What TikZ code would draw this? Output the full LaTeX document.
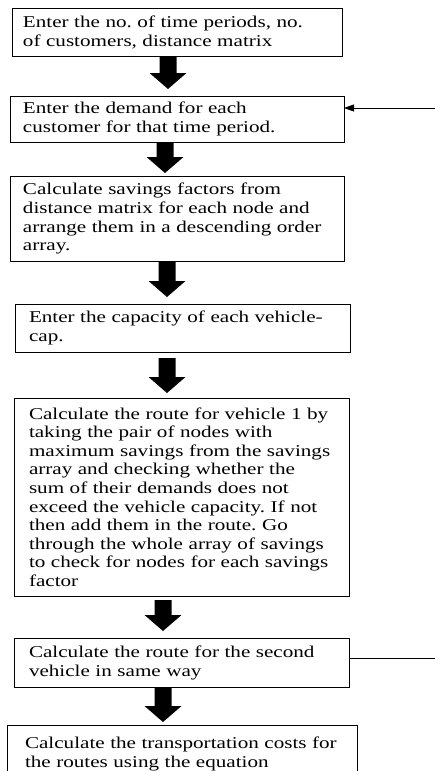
\documentclass[tikz,border=0pt]{standalone}
\usepackage{fontspec}
\setmainfont{Liberation Serif}[FakeStretch=1.28]
\usetikzlibrary{arrows.meta,calc}
\frenchspacing

% thick block arrow pointing down from #1 to #2
\newcommand\blockarrow[2]{%
  \fill let \p1=(#1), \p2=(#2) in
    (\x1-8.5pt,\y1) -- (\x1+8.5pt,\y1) -- (\x1+8.5pt,\y2+16pt)
    -- (\x1+18.5pt,\y2+16pt) -- (\x1,\y2) -- (\x1-18.5pt,\y2+16pt)
    -- (\x1-8.5pt,\y2+16pt) -- cycle;}

\tikzset{
  stepbox/.style n args={3}{draw, line width=0.9pt, anchor=north west,
    outer sep=0pt, inner ysep=2pt, inner xsep=#3,
    text width=#1-2*#3, minimum height=#2, align=left,
    font=\fontsize{16.5pt}{18.6pt}\selectfont\frenchspacing,
    execute at begin node={\rule{0pt}{12pt}},
    execute at end node={\rule[-0.5pt]{0pt}{0.5pt}}},
  sideline/.style={line width=0.8pt},
}

\begin{document}
\begin{tikzpicture}[x=1pt, y=-1pt]
\useasboundingbox (0,0) rectangle (435,771);

\node[stepbox={330pt}{48pt}{11pt}] (b1) at (12,8)
  {Enter the no. of time periods, no.\\ of customers, distance matrix};
\node[stepbox={334pt}{46pt}{13pt}] (b2) at (10,96)
  {Enter the demand for each\\ customer for that time period.};
\node[stepbox={334pt}{85pt}{13pt}] (b3) at (10,176)
  {Calculate savings factors from\\ distance matrix for each node and\\
   arrange them in a descending order\\ array.};
\node[stepbox={335pt}{48pt}{14pt}] (b4) at (15,304)
  {Enter the capacity of each vehicle-\\ cap.};
\node[stepbox={335pt}{198pt}{15pt}] (b5) at (14,398)
  {Calculate the route for vehicle 1 by\\ taking the pair of nodes with\\
   maximum savings from the savings\\ array and checking whether the\\
   sum of their demands does not\\ exceed the vehicle capacity. If not\\
   then add them in the route. Go\\ through the whole array of savings\\
   to check for nodes for each savings\\ factor};
\node[stepbox={335pt}{49pt}{15pt}] (b6) at (14,638)
  {Calculate the route for the second\\ vehicle in same way};
\node[stepbox={350pt}{58pt}{18pt}] (b7) at (7,725)
  {Calculate the transportation costs for\\ the routes using the equation};

% block arrows between the steps
\coordinate (a1s) at (b1.south -| 168,0);
\coordinate (a1e) at ([yshift=7pt]b2.north -| 168,0);
\coordinate (a2s) at (b2.south -| 165,0);
\coordinate (a2e) at ([yshift=3pt]b3.north -| 165,0);
\coordinate (a3s) at (b3.south -| 167,0);
\coordinate (a3e) at ([yshift=7pt]b4.north -| 167,0);
\coordinate (a4s) at ([yshift=-6pt]b4.south -| 167,0);
\coordinate (a4e) at ([yshift=5pt]b5.north -| 167,0);
\coordinate (a5s) at ([yshift=-4pt]b5.south -| 163,0);
\coordinate (a5e) at ([yshift=7pt]b6.north -| 163,0);
\coordinate (a6s) at (b6.south -| 163,0);
\coordinate (a6e) at ([yshift=3pt]b7.north -| 163,0);
\blockarrow{a1s}{a1e}
\blockarrow{a2s}{a2e}
\blockarrow{a3s}{a3e}
\blockarrow{a4s}{a4e}
\blockarrow{a5s}{a5e}
\blockarrow{a6s}{a6e}

% loop back for the next time period
\coordinate (loopin) at (435,108);
\coordinate (loopout) at (435,658);
\draw[sideline, -{Triangle[length=10pt,width=7pt]}] (loopin) -- (b2.east |- loopin);
\draw[sideline] (b6.east |- loopout) -- (loopout);
\end{tikzpicture}
\end{document}
